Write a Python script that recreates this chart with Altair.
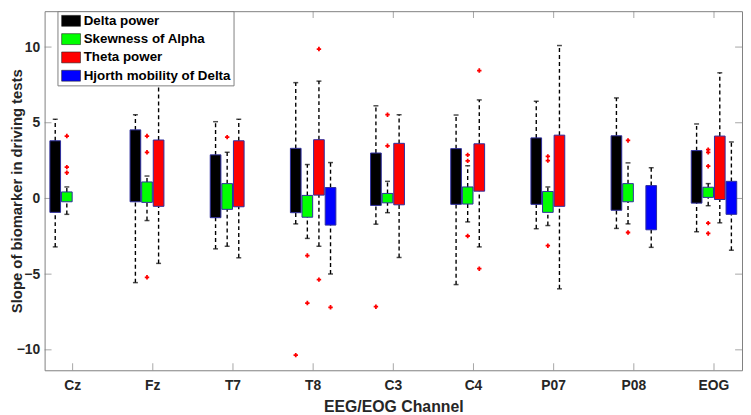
import altair as alt
import pandas as pd

channels = ["Cz", "Fz", "T7", "T8", "C3", "C4", "P07", "P08", "EOG"]
series_names = ["Delta power", "Skewness of Alpha", "Theta power", "Hjorth mobility of Delta"]
series_colors = ["#000000", "#00ff00", "#ff0000", "#0000ff"]

# Delta power (all channels)
delta_q1 = [-0.92, -0.22, -1.27, -0.94, -0.46, -0.39, -0.39, -0.78, -0.31]
delta_q3 = [3.81, 4.53, 2.88, 3.31, 3.00, 3.29, 4.00, 4.14, 3.16]
delta_lo = [-3.20, -5.56, -3.33, -1.68, -1.70, -5.69, -2.00, -1.98, -2.20]
delta_hi = [5.23, 5.53, 5.07, 7.65, 6.12, 5.51, 6.42, 6.64, 4.92]

# Skewness of Alpha (all channels)
skew_q1 = [-0.22, -0.26, -0.72, -1.24, -0.29, -0.37, -0.92, -0.22, 0.07]
skew_q3 = [0.43, 1.09, 0.98, 0.20, 0.33, 0.76, 0.46, 0.98, 0.74]
skew_lo = [-1.05, -1.46, -3.16, -2.64, -0.94, -1.55, -1.79, -1.68, -0.48]
skew_hi = [0.76, 1.48, 3.05, 2.24, 1.13, 2.16, 0.76, 2.35, 0.98]

# Theta power
theta_channels = ["Fz", "T7", "T8", "C3", "C4", "P07", "EOG"]
theta_q1 = [-0.52, -0.55, 0.22, -0.42, 0.48, -0.52, -0.07]
theta_q3 = [3.86, 3.81, 3.88, 3.64, 3.61, 4.18, 4.12]
theta_lo = [-4.29, -3.92, -3.16, -3.90, -3.20, -5.97, -1.61]
theta_hi = [7.62, 5.23, 7.75, 5.53, 6.51, 10.10, 8.30]

# Hjorth mobility of Delta
hjorth_channels = ["T8", "P08", "EOG"]
hjorth_q1 = [-1.76, -2.07, -1.05]
hjorth_q3 = [0.72, 0.85, 1.13]
hjorth_lo = [-4.99, -3.23, -3.42]
hjorth_hi = [2.37, 2.03, 3.73]

# Outliers
out_channel = ["Cz", "Cz", "Cz", "Fz", "Fz", "Fz", "T7", "T8", "T8", "T8", "T8", "T8", "T8",
               "C3", "C3", "C3", "C4", "C4", "C4", "C4", "C4", "P07", "P07", "P07",
               "P08", "P08", "EOG", "EOG", "EOG", "EOG", "EOG"]
out_series = ["Skewness of Alpha"] * 3 + ["Skewness of Alpha"] * 3 + ["Skewness of Alpha"] + \
             ["Delta power", "Skewness of Alpha", "Skewness of Alpha", "Theta power", "Theta power",
              "Hjorth mobility of Delta"] + \
             ["Delta power", "Skewness of Alpha", "Skewness of Alpha"] + \
             ["Skewness of Alpha"] * 3 + ["Theta power"] * 2 + \
             ["Skewness of Alpha"] * 3 + ["Skewness of Alpha"] * 2 + ["Skewness of Alpha"] * 5
out_value = [4.12, 2.07, 1.70, 4.12, 3.05, -5.21, 4.05, -10.35, -3.77, -6.91, 9.87, -5.36,
             -7.19, -7.15, 5.53, 3.48, 2.88, 2.48, -2.48, 8.45, -4.64, 2.78, 2.50, -3.12,
             3.83, -2.25, 3.22, 3.05, 2.13, -1.63, -2.31]

y_tick_values = [-10, -5, 0, 5, 10]

rows = []
def add(name, chans, q1, q3, lo, hi):
    for c, a, b, l, h in zip(chans, q1, q3, lo, hi):
        rows.append({"channel": c, "series": name, "q1": a, "q3": b, "lo": l, "hi": h})

add(series_names[0], channels, delta_q1, delta_q3, delta_lo, delta_hi)
add(series_names[1], channels, skew_q1, skew_q3, skew_lo, skew_hi)
add(series_names[2], theta_channels, theta_q1, theta_q3, theta_lo, theta_hi)
add(series_names[3], hjorth_channels, hjorth_q1, hjorth_q3, hjorth_lo, hjorth_hi)
boxes = pd.DataFrame(rows)
outliers = pd.DataFrame({"channel": out_channel, "series": out_series, "value": out_value})
xticks_df = pd.DataFrame({"channel": channels})
yticks_df = pd.DataFrame({"v": y_tick_values})

W, H = 705, 363
FONT = "Liberation Sans"
TXT = "#262626"
FRAME = "#808080"

xscale = alt.Scale(domain=channels, paddingInner=0.433, paddingOuter=0.066)
yscale = alt.Scale(domain=[-11.35, 12.37], nice=False, zero=False)
offscale = alt.Scale(domain=series_names, paddingInner=0.08, paddingOuter=0)

xaxis = alt.Axis(title="EEG/EOG Channel", labelAngle=0, ticks=False, domain=False, grid=False,
                 labelPadding=8, titlePadding=7, labelFont=FONT, labelFontSize=14,
                 labelFontWeight="bold", labelColor=TXT, titleFont=FONT, titleFontSize=16,
                 titleFontWeight="bold", titleColor=TXT)
yaxis = alt.Axis(title="Slope of biomarker in driving tests", values=y_tick_values, ticks=False,
                 domain=False, grid=False, labelPadding=5, labelFont=FONT, labelFontSize=14,
                 labelFontWeight="bold", labelColor=TXT, titleFont=FONT, titleFontSize=15,
                 titleFontWeight="bold", titleColor=TXT, titleX=-20)

X = alt.X("channel:N", scale=xscale, sort=channels, axis=xaxis)
XO = alt.XOffset("series:N", scale=offscale, sort=series_names)

def Y(field):
    return alt.Y(f"{field}:Q", scale=yscale, axis=yaxis)

base = alt.Chart(boxes)

upper = base.mark_rule(color="black", strokeWidth=1.4, strokeDash=[4, 3]).encode(
    x=X, xOffset=XO, y=Y("q3"), y2="hi:Q")
lower = base.mark_rule(color="black", strokeWidth=1.4, strokeDash=[4, 3]).encode(
    x=X, xOffset=XO, y=Y("lo"), y2="q1:Q")
cap_hi = base.mark_tick(orient="horizontal", color="black", size=5, thickness=1.5).encode(
    x=X, xOffset=XO, y=Y("hi"))
cap_lo = base.mark_tick(orient="horizontal", color="black", size=5, thickness=1.5).encode(
    x=X, xOffset=XO, y=Y("lo"))

bars = base.mark_bar(stroke="#2e2e9e", strokeWidth=1).encode(
    x=X, xOffset=XO, y=Y("q1"), y2="q3:Q",
    color=alt.Color("series:N", scale=alt.Scale(domain=series_names, range=series_colors),
                    sort=series_names,
                    legend=alt.Legend(title=None, orient="none", legendX=13, legendY=0,
                                      fillColor="white", strokeColor=FRAME, padding=3,
                                      rowPadding=3.5, labelFont=FONT, labelFontSize=13.5,
                                      labelFontWeight="bold", labelColor="black",
                                      symbolType="M-1.73,-1H1.73V1H-1.73Z", symbolSize=121,
                                      symbolStrokeColor="#222222", symbolStrokeWidth=0.6,
                                      symbolOffset=4, labelOffset=6, labelLimit=300)))

pts = alt.Chart(outliers).mark_point(shape="cross", filled=True, color="#ff0000", size=20,
                                     opacity=1).encode(
    x=X, xOffset=XO, y=Y("value"))

ytick_l = alt.Chart(yticks_df).mark_tick(orient="horizontal", color=FRAME, size=7, thickness=1).encode(
    y=Y("v"), x=alt.value(3.5))
ytick_r = alt.Chart(yticks_df).mark_tick(orient="horizontal", color=FRAME, size=7, thickness=1).encode(
    y=Y("v"), x=alt.value(W - 3.5))
xtick_b = alt.Chart(xticks_df).mark_tick(orient="vertical", color=FRAME, size=7, thickness=1).encode(
    x=X, y=alt.value(H - 3.5))
xtick_t = alt.Chart(xticks_df).mark_tick(orient="vertical", color=FRAME, size=7, thickness=1).encode(
    x=X, y=alt.value(3.5))

chart = alt.layer(ytick_l, ytick_r, xtick_b, xtick_t, upper, lower, cap_hi, cap_lo, bars, pts).properties(
    width=W, height=H,
    autosize=alt.AutoSizeParams(type="none"),
    padding={"left": 37, "top": 1, "right": 1, "bottom": 43},
    background="white",
).configure_view(stroke=FRAME, strokeWidth=1)

chart.save("out.html", embed_options={"renderer": "svg", "actions": False})
